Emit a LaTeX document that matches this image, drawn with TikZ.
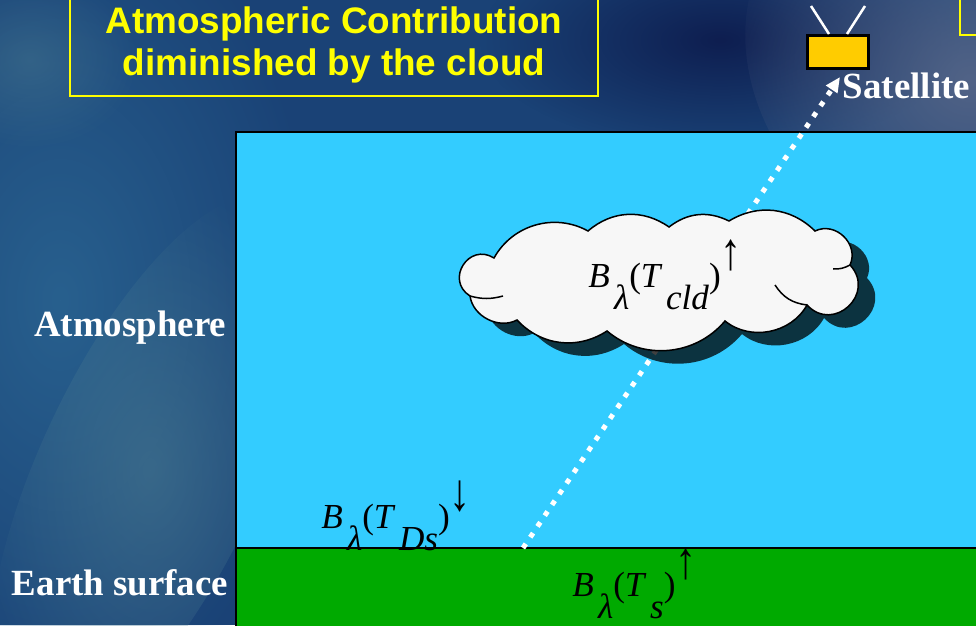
\documentclass[tikz,border=0pt]{standalone}
\usepackage{graphicx}
\usepackage{fontspec}
\setmainfont{Liberation Serif}
\setsansfont{Liberation Sans}
\usetikzlibrary{arrows.meta,fadings}

\definecolor{seablue}{RGB}{26,66,118}
\definecolor{shallow}{RGB}{40,96,142}
\definecolor{seahaze}{RGB}{80,128,146}
\definecolor{deepnavy}{RGB}{14,30,80}
\definecolor{cloudgrey}{RGB}{100,110,140}
\definecolor{skyblue}{RGB}{51,204,255}
\definecolor{grass}{RGB}{0,170,0}
\definecolor{titleyellow}{RGB}{255,255,0}
\definecolor{satgold}{RGB}{255,204,0}
\definecolor{cloudwhite}{RGB}{247,247,247}

\tikzfading[name=softblob, inner color=transparent!0, outer color=transparent!100]

% B_lambda(T_x) mit Pfeil
\newcommand{\radarrow}[1]{\raisebox{0.5em}{\scalebox{1.2}[1.5]{\bfseries #1}}}
\newcommand{\radterm}[2]{\textit{B}\kern0.12em\raisebox{-0.65em}{\textit{λ}}(\textit{T}\kern0.1em\raisebox{-0.65em}{\textit{#1}})\radarrow{#2}}

% Wolkenumriss
\newcommand{\cloudshape}[1]{%
    \path[#1] (494,258) to[bend left=45] (588,231) to[bend left=38] (669,227)
        to[bend left=32] (729,221) to[bend left=38] (815,231)
        to[bend left=70, looseness=1.2] (850,265) to[bend left=90, looseness=1.7] (807,305)
        to[bend left=50] (725,321) to[bend left=45] (607,331)
        to[bend left=40] (517,320) to[bend left=55] (470,296)
        to[bend left=90, looseness=1.7] (494,258) -- cycle;}

\tikzset{
  sidelabel/.style={text=white, inner sep=0.05cm, font=\bfseries\fontsize{21}{25}\selectfont},
  radlabel/.style={inner sep=0pt, font=\fontsize{20}{24}\selectfont},
  beam/.style={white, line width=0.1cm, dash pattern=on 0.1cm off 0.16cm,
    -{Triangle[length=0.3cm,width=0.26cm]}},
  antenna/.style={white, line width=0.05cm},
  frame/.style={titleyellow, line width=0.04cm},
  blob/.style={path fading=softblob},
  puffline/.style={line width=0.03cm},
}

\begin{document}
\begin{tikzpicture}[x=0.02cm, y=-0.02cm]
    \useasboundingbox (0,0) rectangle (976,625);

    % Hintergrund
    \begin{scope}
        \clip (0,0) rectangle (976,625);
        \fill[seablue] (0,0) rectangle (976,625);
        \fill[shallow, blob] (60,300) ellipse (260 and 420);
        \fill[seahaze, blob, opacity=0.5, rotate around={-25:(150,470)}] (150,470) ellipse (110 and 300);
        \fill[seahaze, blob, opacity=0.4] (30,60) ellipse (110 and 90);
        \fill[deepnavy, blob] (720,40) ellipse (240 and 110);
        \fill[cloudgrey, blob, opacity=0.75, rotate around={-35:(970,80)}] (970,80) ellipse (240 and 190);
    \end{scope}

    % Titel
    \draw[frame] (70,-10) rectangle (598,96);
    \node[text=titleyellow, align=center, font=\sffamily\bfseries\fontsize{21}{24}\selectfont]
        (title) at (334,45) {Atmospheric Contribution\\diminished by the cloud};
    \draw[frame] (960,-10) -- (960,35) -- (990,35);

    % Atmosphaere und Boden
    \draw[fill=skyblue, line width=0.04cm] (236,132) rectangle (990,548);
    \draw[fill=grass, line width=0.04cm] (236,548) rectangle (990,640);
    \node[sidelabel, anchor=east] (atmlbl) at (229,328) {Atmosphere};
    \node[sidelabel, anchor=east] (gndlbl) at (231,583) {Earth surface};

    % Satellit
    \node[draw=black, fill=satgold, line width=0.06cm, minimum width=1.22cm,
        minimum height=0.66cm, inner sep=0pt] (sat) at (838,52) {};
    \draw[antenna] ([xshift=-0.18cm]sat.north) -- ++(-18,-28);
    \draw[antenna] ([xshift=0.18cm]sat.north) -- ++(18,-28);
    \node[sidelabel, anchor=west] (satlbl) at (840,86) {Satellite};

    % Strahl
    \coordinate (foot) at (523,548);
    \draw[beam] (foot) -- ([yshift=0.18cm]satlbl.west);

    % Wolke
    \cloudshape{fill=black, opacity=0.75, shift={(17,13)}}
    \cloudshape{draw=black, fill=cloudwhite, puffline}
    \draw[puffline] (470,296) to[bend right=15] (503,296);
    \draw[puffline] (850,265) to[bend left=15] (833,269);
    \draw[puffline] (807,305) to[bend left=25] (775,285);
    \node[radlabel, anchor=base west] (tcld) at (588,287) {\radterm{cld}{↑}};

    % Strahlungsterme am Boden
    \node[radlabel, anchor=base west] (tds) at (321,528) {\radterm{Ds}{↓}};
    \node[radlabel, anchor=base west] (ts) at (572,596) {\radterm{s}{↑}};
\end{tikzpicture}
\end{document}
